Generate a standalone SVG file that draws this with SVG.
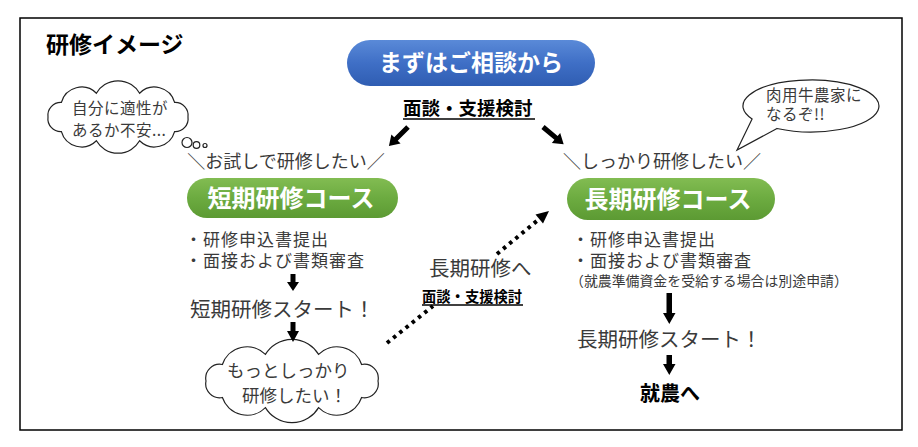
<svg xmlns="http://www.w3.org/2000/svg" width="918" height="447" viewBox="0 0 918 447">
<defs>
<linearGradient id="gBlue" x1="0" y1="0" x2="0" y2="1">
<stop offset="0" stop-color="#5a8ad8"/>
<stop offset="0.5" stop-color="#3f6fc6"/>
<stop offset="1" stop-color="#2f5db2"/>
</linearGradient>
<linearGradient id="gGreen" x1="0" y1="0" x2="0" y2="1">
<stop offset="0" stop-color="#82bc52"/>
<stop offset="0.5" stop-color="#6cab40"/>
<stop offset="1" stop-color="#5c9a33"/>
</linearGradient>
<path id="diag" d="M-2.5,0 L2.5,0 L2.5,17 L6.5,17 L0,27 L-6.5,17 L-2.5,17 Z"/>
</defs>
<style>
text{font-family:"Noto Sans CJK JP","Noto Sans CJK SC",sans-serif;fill:#3a3a3a;}
.b{font-weight:bold;fill:#000;}
.w{font-weight:bold;fill:#fff;}
.li{font-size:17px;letter-spacing:1px;}
.bu{font-size:15.5px;letter-spacing:0.5px;}
.cloud{fill:#fff;stroke:#222;stroke-width:1.2;}
.arr{fill:#000;}
.dot{stroke:#000;stroke-width:4;stroke-dasharray:3.5 4.5;fill:none;}
.ul{stroke:#000;stroke-width:1.3;}
</style>
<rect x="20" y="18" width="882" height="412" fill="#fff" stroke="#000" stroke-width="1.5"/>
<text id="title" class="b" x="46" y="53" font-size="23">研修イメージ</text>

<g id="start">
<rect x="347" y="40" width="248" height="46" rx="23" fill="url(#gBlue)"/>
<text class="w" x="471" y="71" font-size="23" text-anchor="middle">まずはご相談から</text>
</g>

<g id="consult1">
<text class="b" x="403" y="115" font-size="18.5">面談・支援検討</text>
<line class="ul" x1="403" y1="119" x2="535" y2="119"/>
</g>

<g id="worry">
<path class="cloud" d="M188,117 A13,13 0 0 1 174.6,131.7 A21,21 0 0 1 139.6,140.8 A25,25 0 0 1 96.4,140.8 A21,21 0 0 1 61.4,131.7 A13,13 0 0 1 48,117 A13,13 0 0 1 61.4,102.3 A21,21 0 0 1 96.4,93.2 A25,25 0 0 1 139.6,93.2 A21,21 0 0 1 174.6,102.3 A13,13 0 0 1 188,117 Z"/>
<ellipse class="cloud" cx="187" cy="142.5" rx="5" ry="5"/>
<ellipse class="cloud" cx="196.5" cy="145" rx="3.3" ry="3.3"/>
<ellipse class="cloud" cx="205" cy="145.5" rx="2" ry="2"/>
<text class="bu" x="72" y="114">自分に適性が</text>
<text class="bu" x="72" y="136">あるか不安...</text>
</g>

<g id="resolve">
<path class="cloud" d="M777,128.5 L737,150 L752.1,119 A68,26 0 1 1 777,128.5 Z"/>
<text class="bu" x="766" y="101">肉用牛農家に</text>
<text class="bu" x="766" y="120">なるぞ!!</text>
</g>

<g id="short-course">
<text x="286" y="168" font-size="18" text-anchor="middle">＼お試しで研修したい／</text>
<rect x="187" y="178" width="211" height="40" rx="20" fill="url(#gGreen)"/>
<text class="w" x="291" y="206.5" font-size="24" text-anchor="middle">短期研修コース</text>
<text class="li" x="185" y="246">・研修申込書提出</text>
<text class="li" x="185" y="267">・面接および書類審査</text>
</g>

<g id="short-start">
<text x="190" y="316.5" font-size="20.5">短期研修スタート！</text>
</g>

<g id="more">
<path class="cloud" d="M378,381 A14,14 0 0 1 361.6,397.5 A26,26 0 0 1 318.6,407.6 A31,31 0 0 1 265.4,407.6 A26,26 0 0 1 222.4,397.5 A14,14 0 0 1 206,381 A14,14 0 0 1 222.4,364.5 A26,26 0 0 1 265.4,354.4 A31,31 0 0 1 318.6,354.4 A26,26 0 0 1 361.6,364.5 A14,14 0 0 1 378,381 Z"/>
<text x="227" y="377" font-size="17.5">もっとしっかり</text>
<text x="242" y="402" font-size="17.5">研修したい！</text>
</g>

<g id="transfer">
<text x="429" y="276" font-size="20.5">長期研修へ</text>
<text class="b" x="422" y="302" font-size="14.3">面談・支援検討</text>
<line class="ul" x1="422" y1="305" x2="523" y2="305"/>
</g>

<g id="long-course">
<text x="662" y="168" font-size="18" text-anchor="middle">＼しっかり研修したい／</text>
<rect x="567" y="178" width="208" height="42" rx="21" fill="url(#gGreen)"/>
<text class="w" x="668" y="207.5" font-size="24" text-anchor="middle">長期研修コース</text>
<text class="li" x="572" y="246">・研修申込書提出</text>
<text class="li" x="572" y="267">・面接および書類審査</text>
<text x="570" y="286" font-size="13.9">（就農準備資金を受給する場合は別途申請）</text>
</g>

<g id="long-start">
<text x="577" y="347" font-size="20.5">長期研修スタート！</text>
</g>

<g id="farming">
<text class="b" x="640" y="401" font-size="20">就農へ</text>
</g>

<g id="connectors">
<use href="#diag" class="arr" transform="translate(408,127) rotate(45)"/>
<use href="#diag" class="arr" transform="translate(543,127) rotate(-50)"/>
<polygon class="arr" points="290.5,274 295.5,274 295.5,282 299,282 293,291 287,282 290.5,282"/>
<polygon class="arr" points="290.5,322 295.5,322 295.5,331 299,331 293,342 287,331 290.5,331"/>
<polygon class="arr" points="666.5,293 672,293 672,313 675.5,313 669.3,324 663,313 666.5,313"/>
<polygon class="arr" points="666.5,355 672,355 672,364 675.5,364 669.3,375 663,364 666.5,364"/>
<line class="dot" x1="387" y1="343" x2="433" y2="306"/>
<line class="dot" x1="497" y1="254" x2="538" y2="220"/>
<polygon class="arr" points="549,211 543,223.5 535.5,214.5"/>
</g>
</svg>
